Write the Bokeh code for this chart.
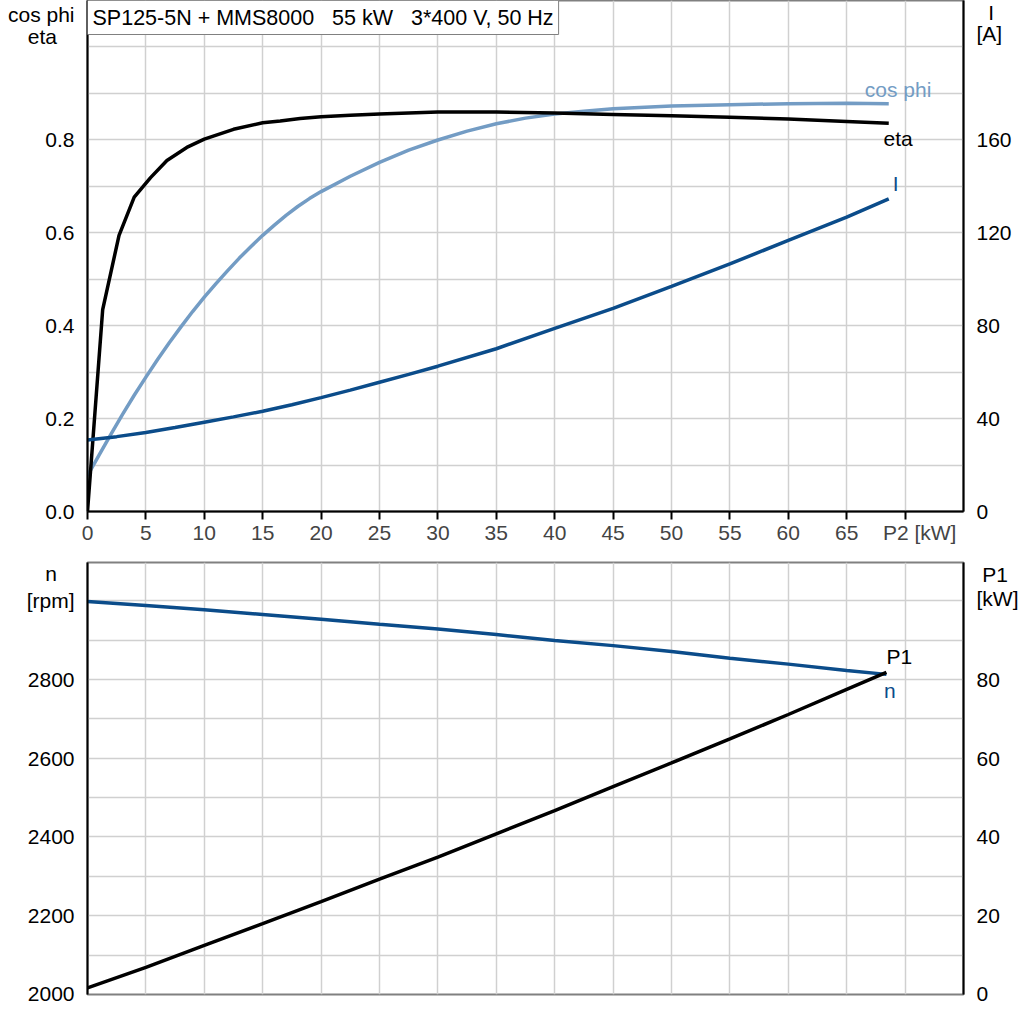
from bokeh.plotting import figure
from bokeh.models import Range1d, LinearAxis, FixedTicker, Label
from bokeh.layouts import column
from bokeh.embed import file_html
from bokeh.resources import INLINE

# ---------------- data ----------------
P2_eta = [0, 1.3, 2.7, 4.0, 5.4, 6.8, 8.5, 10, 12.5, 15, 16.5, 18.2, 20, 22.5, 25, 27.5, 30, 35, 40,
          45, 50, 55, 60, 65, 68.6]
eta = [0.0, 0.434, 0.594, 0.676, 0.718, 0.755, 0.783, 0.801, 0.822, 0.836, 0.840, 0.845, 0.849, 0.852,
       0.855, 0.857, 0.859, 0.859, 0.857, 0.854, 0.851, 0.848, 0.844, 0.839, 0.835]

P2_cos = [0, 1, 2, 3, 4, 5, 6, 7, 8, 9, 10, 11, 12, 13, 14, 15, 16, 17, 18, 19, 20, 22.5, 25, 27.5,
          30, 32.5, 35, 37.5, 40, 42.5, 45, 50, 55, 60, 65, 68.6]
cosphi = [0.077, 0.122, 0.166, 0.209, 0.250, 0.289, 0.327, 0.363, 0.397, 0.430, 0.461, 0.490, 0.518,
          0.545, 0.570, 0.594, 0.616, 0.637, 0.656, 0.673, 0.688, 0.721, 0.751, 0.777, 0.799, 0.818,
          0.834, 0.846, 0.855, 0.861, 0.866, 0.872, 0.875, 0.877, 0.878, 0.877]

P2_I = [0, 2.5, 5, 7.5, 10, 12.5, 15, 17.5, 20, 22.5, 25, 27.5, 30, 35, 40, 45, 50, 55, 60, 65, 68.6]
I_amp = [30.8, 32.2, 34.0, 36.1, 38.4, 40.7, 43.1, 45.9, 49.0, 52.2, 55.6, 59.0, 62.5, 70.0, 78.8,
         87.4, 96.8, 106.5, 116.6, 126.6, 134.5]

P2_b = [0, 5, 10, 15, 20, 25, 30, 35, 40, 45, 50, 55, 60, 65, 68.4]
n_rpm = [2998, 2988, 2977, 2965, 2953, 2940, 2928, 2914, 2899, 2886, 2871, 2854, 2839, 2823, 2813]
P1 = [1.7, 6.9, 12.5, 18.0, 23.6, 29.3, 34.9, 40.8, 46.7, 52.8, 58.8, 64.9, 71.1, 77.5, 81.8]

NB = "\u00a0"
title_text = "SP125-5N + MMS8000" + NB * 3 + "55 kW" + NB * 3 + "3*400 V, 50 Hz"
x_ticks = [0, 5, 10, 15, 20, 25, 30, 35, 40, 45, 50, 55, 60, 65, 70]
x_labels = {70: NB * 5 + "P2 [kW]"}
top_left_ticks = [0, 0.2, 0.4, 0.6, 0.8]
top_left_labels = {1.0215: "eta" + NB * 3, 1.069: "cos phi"}
top_right_ticks = [0, 40, 80, 120, 160]
top_right_labels = {205.6: "[A]", 214.6: NB * 2 + "I"}
bot_left_ticks = [2000, 2200, 2400, 2600, 2800, 3000]
bot_left_labels = {3000: "[rpm]", 3069: "n" + NB * 3}
bot_right_ticks = [0, 20, 40, 60, 80]
bot_right_labels = {100.6: "[kW]", 106.7: NB + "P1"}

# ---------------- style ----------------
FONT = "Liberation Sans"
FS = "21px"
C_ETA = "#000000"
C_COS = "#739cc4"
C_I = "#0b4c8a"
GRID = "#d0d0d0"
OUT = "#808080"
LW = 3.5


def label_axis(ax, standoff=13):
    # axis that draws the line and all labels; its tick marks are hidden
    ax.axis_line_color = "black"
    ax.axis_line_width = 2
    ax.major_tick_line_color = None
    ax.major_tick_out = 0
    ax.major_tick_in = 0
    ax.minor_tick_line_color = None
    ax.major_label_text_font = FONT
    ax.major_label_text_font_size = FS
    ax.major_label_text_color = "black"
    ax.major_label_standoff = standoff


def tick_axis(ax):
    # axis fixed on the frame edge that only draws the numeric tick marks (no labels)
    ax.axis_line_color = None
    ax.major_tick_line_color = "black"
    ax.major_tick_line_width = 2
    ax.major_tick_out = 8
    ax.major_tick_in = 0
    ax.minor_tick_line_color = None
    ax.major_label_text_font_size = "0px"
    ax.major_label_text_color = None
    ax.major_label_standoff = 0


def side_axes(fig, side, ticks, labels, range_name, loc, numeric_fmt=None):
    main = LinearAxis(y_range_name=range_name,
                      ticker=FixedTicker(ticks=sorted(set(ticks) | set(labels.keys()))))
    ov = {t: (numeric_fmt(t) if numeric_fmt else str(t)) for t in ticks}
    ov.update(labels)
    main.major_label_overrides = ov
    label_axis(main)
    marks = LinearAxis(y_range_name=range_name, ticker=FixedTicker(ticks=ticks), fixed_location=loc)
    tick_axis(marks)
    fig.add_layout(main, side)
    fig.add_layout(marks, side)


def lab(p, x, y, t, color="black", y_range_name="default"):
    p.add_layout(Label(x=x, y=y, text=t, text_font=FONT, text_font_size=FS, text_color=color,
                       text_align="center", text_baseline="middle", y_range_name=y_range_name))


# ---------------- top figure ----------------
p = figure(frame_width=876, frame_height=511, output_backend="svg", toolbar_location=None,
           x_range=Range1d(0, 75), y_range=Range1d(0, 1.099), y_axis_location=None,
           min_border_left=87, min_border_right=56, min_border_top=0, min_border_bottom=40)
p.extra_y_ranges = {"eta": Range1d(0, 1.099), "I": Range1d(0, 219.8)}
p.outline_line_color = OUT
p.outline_line_width = 2
p.background_fill_color = "white"
p.border_fill_color = "white"

p.xaxis.ticker = FixedTicker(ticks=x_ticks)
p.xaxis.major_label_overrides = x_labels
xa = p.xaxis[0]
xa.axis_line_color = "black"
xa.axis_line_width = 2
xa.major_tick_line_color = "black"
xa.major_tick_line_width = 2
xa.major_tick_out = 8
xa.major_tick_in = 0
xa.minor_tick_line_color = None
xa.major_label_text_font = FONT
xa.major_label_text_font_size = FS
xa.major_label_standoff = 1

p.xgrid.ticker = FixedTicker(ticks=x_ticks)
p.ygrid.ticker = FixedTicker(ticks=[i / 10 for i in range(0, 11)])
for g in (p.xgrid, p.ygrid):
    g.grid_line_color = GRID
    g.grid_line_width = 1.5

side_axes(p, "left", top_left_ticks, top_left_labels, "eta", 0, lambda t: "%.1f" % t)
side_axes(p, "right", top_right_ticks, top_right_labels, "I", 75)

p.line(P2_cos, cosphi, line_color=C_COS, line_width=LW)
p.line(P2_eta, eta, line_color=C_ETA, line_width=LW)
p.line(P2_I, I_amp, line_color=C_I, line_width=LW, y_range_name="I")

lab(p, 69.4, 0.907, "cos phi", C_COS)
lab(p, 69.4, 0.802, "eta", C_ETA)
lab(p, 69.2, 0.705, "I", C_I)

p.add_layout(Label(x=0, y=1.099, text=title_text, text_font=FONT, text_font_size="21.5px",
                   text_color="black", text_align="left", text_baseline="top",
                   background_fill_color="white", border_line_color=OUT, border_line_width=1,
                   padding=5))

# ---------------- bottom figure ----------------
q = figure(frame_width=876, frame_height=432, output_backend="svg", toolbar_location=None,
           x_range=Range1d(0, 75), y_range=Range1d(2000, 3097.1), y_axis_location=None,
           min_border_left=87, min_border_right=56, min_border_top=11, min_border_bottom=10)
q.extra_y_ranges = {"n": Range1d(2000, 3097.1), "P1": Range1d(0, 109.7)}
q.outline_line_color = OUT
q.outline_line_width = 2
q.xaxis.visible = False
q.xgrid.ticker = FixedTicker(ticks=x_ticks)
q.ygrid.ticker = FixedTicker(ticks=list(range(2000, 3001, 100)))
for g in (q.xgrid, q.ygrid):
    g.grid_line_color = GRID
    g.grid_line_width = 1.5

side_axes(q, "left", bot_left_ticks, bot_left_labels, "n", 0)
side_axes(q, "right", bot_right_ticks, bot_right_labels, "P1", 75)

q.line(P2_b, n_rpm, line_color=C_I, line_width=LW)
q.line(P2_b, P1, line_color="black", line_width=LW, y_range_name="P1")

lab(q, 69.5, 2858, "P1")
lab(q, 68.7, 2772, "n", C_I)

layout = column(p, q, spacing=0)
open("out.html", "w").write(file_html(layout, INLINE))
